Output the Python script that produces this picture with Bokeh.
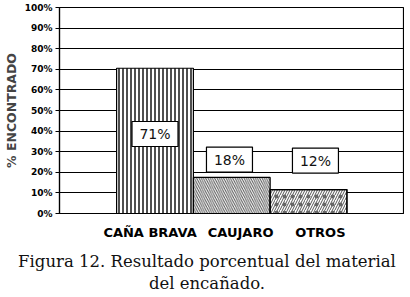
from bokeh.plotting import figure
from bokeh.models import FixedTicker, Range1d, ColumnDataSource, Div
from bokeh.layouts import column
from bokeh.core.properties import value
from bokeh.embed import file_html
from bokeh.resources import INLINE

categories = ["CAÑA BRAVA", "CAUJARO", "OTROS"]
percent = [70.5, 17.5, 11.6]
value_labels = ["71%", "18%", "12%"]
y_ticks = [0, 10, 20, 30, 40, 50, 60, 70, 80, 90, 100]

xs = [i + 1 for i in range(len(categories))]

p = figure(width=404, height=246, output_backend="svg", toolbar_location=None,
           x_range=Range1d(-0.244, 4.237), y_range=Range1d(0, 100),
           min_border_left=54, min_border_right=1, min_border_top=7,
           min_border_bottom=33)
p.background_fill_color = "white"
p.border_fill_color = "white"
p.outline_line_color = "black"
p.outline_line_width = 1.2

# grid
p.xgrid.visible = False
p.ygrid.ticker = FixedTicker(ticks=y_ticks)
p.ygrid.grid_line_color = "black"
p.ygrid.grid_line_width = 1.2

# bars
hatches = ["vertical_line", "left_diagonal_line", "right_diagonal_line"]
scales = [4.0, 4.5, 5.0]
weights = [1.6, 1.0, 1.0]
hcolors = ["#222222", "#555555", "#555555"]
for i in range(len(categories)):
    src = ColumnDataSource(dict(x=[xs[i]], top=[percent[i]]))
    p.vbar(x="x", top="top", width=1.0, bottom=0, source=src,
           fill_color="white", line_color="black", line_width=1.2,
           hatch_pattern=hatches[i], hatch_color=hcolors[i],
           hatch_scale=scales[i], hatch_weight=weights[i])
# dots over third bar
src3 = ColumnDataSource(dict(x=[xs[2]], top=[percent[2]]))
p.vbar(x="x", top="top", width=1.0, bottom=0, source=src3,
       fill_alpha=0, line_color="black", line_width=1.2,
       hatch_pattern="dot", hatch_color="#666666", hatch_scale=8, hatch_weight=0.6)

# value label boxes
box_x = [1.0, 1.97, 3.09]
box_y = [38.6, 26.2, 25.7]
lsrc = ColumnDataSource(dict(x=box_x, y=box_y, t=value_labels))
p.rect(x="x", y="y", width=46, height=25, width_units="screen", height_units="screen",
       source=lsrc, fill_color="white", line_color="black", line_width=1.2)
p.text(x="x", y="y", text="t", source=lsrc, text_align="center", text_baseline="middle",
       text_font=value("DejaVu Sans"), text_font_size="14px", text_color="#111111")

# y axis
yax = p.yaxis[0]
yax.ticker = FixedTicker(ticks=y_ticks)
yax.major_label_overrides = {t: f"{t}%" for t in y_ticks}
yax.major_label_text_font = "DejaVu Sans"
yax.major_label_text_font_style = "bold"
yax.major_label_text_font_size = "9px"
yax.major_label_text_color = "black"
yax.major_tick_out = 4
yax.major_tick_in = 0
yax.minor_tick_line_color = None
yax.axis_line_color = "black"
yax.axis_line_width = 1.2
yax.major_tick_line_width = 1.2
yax.major_label_standoff = 3
yax.axis_label = "% ENCONTRADO"
yax.axis_label_text_font = "DejaVu Sans"
yax.axis_label_text_font_style = "bold"
yax.axis_label_text_font_size = "12.5px"
yax.axis_label_standoff = 3

# x axis
xax = p.xaxis[0]
label_pos = [0.936, 2.115, 3.154]
xax.ticker = FixedTicker(ticks=label_pos)
xax.major_label_overrides = {label_pos[i]: categories[i] for i in range(len(categories))}
xax.major_label_text_font = "DejaVu Sans"
xax.major_label_text_font_style = "bold"
xax.major_label_text_font_size = "13px"
xax.major_label_text_color = "black"
xax.major_tick_out = 0
xax.major_tick_in = 0
xax.minor_tick_line_color = None
xax.axis_line_color = "black"
xax.axis_line_width = 1.2
xax.major_label_standoff = 11

caption = Div(text="Figura 12. Resultado porcentual del material<br>del encañado.",
              width=404,
              styles={"font-family": "DejaVu Serif", "font-size": "16.5px",
                      "line-height": "22px", "text-align": "center", "width": "404px",
                      "color": "#111111"})

layout = column(p, caption, spacing=0)
open("out.html", "w").write(file_html(layout, INLINE))
